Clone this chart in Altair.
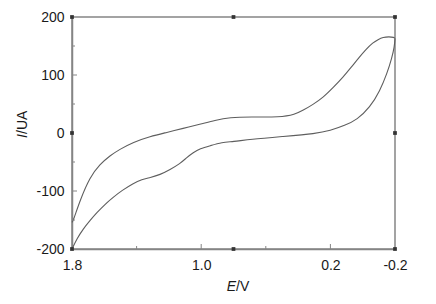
import altair as alt
import pandas as pd

# Cyclic voltammogram
upper_E = [1.800, 1.800, 1.792, 1.750, 1.689, 1.627, 1.565, 1.503, 1.422, 1.317, 1.212,
           1.113, 1.007, 0.915, 0.822, 0.698, 0.512, 0.419, 0.370, 0.308, 0.246,
           0.184, 0.122, 0.072, 0.023, -0.020, -0.064, -0.095, -0.126, -0.163, -0.194,
           -0.200, -0.200]
upper_I = [-154, -154, -151, -116, -76, -54, -39, -28, -16, -6, 1,
           8, 15, 22, 27, 28, 27, 32, 39, 49, 61,
           78, 96, 113, 130, 144, 156, 161, 165, 166, 165,
           163, 163]
lower_E = [-0.200, -0.200, -0.196, -0.181, -0.150, -0.107, -0.045, 0.035, 0.110, 0.202, 0.289, 0.493,
           0.698, 0.803, 0.871, 0.945, 1.007, 1.050, 1.088, 1.131, 1.193, 1.255,
           1.317, 1.367, 1.422, 1.490, 1.546, 1.596, 1.645, 1.689, 1.732, 1.769,
           1.800, 1.800]
lower_I = [163, 163, 148, 130, 102, 73, 44, 23, 13, 4, -1, -6,
           -11, -15, -16, -22, -27, -34, -42, -53, -63, -72,
           -77, -80, -87, -99, -111, -123, -137, -151, -166, -182,
           -200, -200]

x_labels = [1.8, 1.0, 0.2, -0.2]
x_major_ticks = [1.0, 0.2]
x_minor_ticks = [1.4, 0.6]
y_labels = [200, 100, 0, -100, -200]
y_major_ticks = [100, -100]
y_minor_ticks = [150, 50, -50, -150]
marker_E = [1.8, 0.8, -0.2, 1.8, 0.8, -0.2, 1.8, -0.2]
marker_I = [200, 200, 200, -200, -200, -200, 0, 0]

AX = "#858585"
TXT = "#1a1a1a"
FONT = "Liberation Sans"

xscale = alt.Scale(domain=[-0.2, 1.8], reverse=True, nice=False, zero=False)
yscale = alt.Scale(domain=[-200, 200], nice=False, zero=False)

x_expr = "(datum.value < 0 ? '-' : '') + format(abs(datum.value), '.1f')"
y_expr = "(datum.value < 0 ? '-' : '') + format(abs(datum.value), 'd')"

xaxis = alt.Axis(
    values=x_labels, labelExpr=x_expr, ticks=False, grid=False, title=None,
    labelFontSize=14, labelPadding=9, labelFont=FONT, labelColor=TXT,
    domainColor=AX, domainWidth=1.5, labelOverlap=False, labelFlush=False)
yaxis = alt.Axis(
    values=y_labels, labelExpr=y_expr, ticks=False, grid=False, title=None,
    labelFontSize=14, labelPadding=8, labelFont=FONT, labelColor=TXT,
    domainColor=AX, domainWidth=1.5, labelOverlap=False, labelFlush=False)

X = alt.X("E:Q", scale=xscale, axis=xaxis)
Y = alt.Y("I:Q", scale=yscale, axis=yaxis)

upper = alt.Chart(pd.DataFrame({"E": upper_E, "I": upper_I, "order": list(range(len(upper_E)))})).mark_line(
    color="#5e5e5e", strokeWidth=1.1, interpolate="basis"
).encode(x=X, y=Y, order="order:Q")
lower = alt.Chart(pd.DataFrame({"E": lower_E, "I": lower_I, "order": list(range(len(lower_E)))})).mark_line(
    color="#5e5e5e", strokeWidth=1.1, interpolate="basis"
).encode(x=X, y=Y, order="order:Q")

xmaj = alt.Chart(pd.DataFrame({"E": x_major_ticks})).mark_rule(color=AX, strokeWidth=1).encode(
    x=X, y=alt.value(232), y2=alt.value(227))
xmin = alt.Chart(pd.DataFrame({"E": x_minor_ticks})).mark_rule(color=AX, strokeWidth=1).encode(
    x=X, y=alt.value(232), y2=alt.value(229))
ymaj = alt.Chart(pd.DataFrame({"I": y_major_ticks})).mark_rule(color=AX, strokeWidth=1).encode(
    y=Y, x=alt.value(0), x2=alt.value(5))
ymin = alt.Chart(pd.DataFrame({"I": y_minor_ticks})).mark_rule(color=AX, strokeWidth=1).encode(
    y=Y, x=alt.value(0), x2=alt.value(3))

markers = alt.Chart(pd.DataFrame({"E": marker_E, "I": marker_I})).mark_square(
    size=14, color="#333333", opacity=1
).encode(x=X, y=Y)

def txt(s, x, y, align, style, angle=0, baseline="alphabetic"):
    return alt.Chart(pd.DataFrame({"t": [s]})).mark_text(
        align=align, baseline=baseline, angle=angle, fontSize=14, font=FONT,
        fontStyle=style, color=TXT
    ).encode(text="t:N", x=alt.value(x), y=alt.value(y))

xt1 = txt("E", 164, 274, "right", "italic")
xt2 = txt("/V", 164, 274, "left", "normal")
yt1 = txt("I", -49, 117, "right", "italic", angle=270, baseline="middle")
yt2 = txt("/UA", -49, 117, "left", "normal", angle=270, baseline="middle")

chart = alt.layer(upper, lower, xmaj, xmin, ymaj, ymin, markers, xt1, xt2, yt1, yt2).properties(
    width=323, height=232,
    padding={"left": 64, "top": 9, "right": 25, "bottom": 47},
    autosize=alt.AutoSizeParams(type="none"),
    background="white",
).configure_view(stroke=AX, strokeWidth=1.5)

chart.save("out.html", embed_options={"renderer": "svg", "actions": False})
